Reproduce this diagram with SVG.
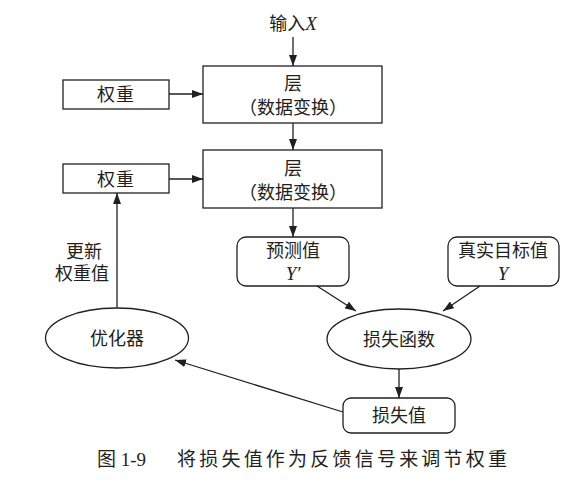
<svg xmlns="http://www.w3.org/2000/svg" width="587" height="481" viewBox="0 0 587 481">
<defs>
<marker id="ah" markerUnits="userSpaceOnUse" markerWidth="11" markerHeight="8" refX="11" refY="4" orient="auto">
<path d="M0,0 L11,4 L0,8 z" fill="#231f20"/>
</marker>
</defs>
<style>
.b{fill:#fff;stroke:#231f20;stroke-width:1.3}
.t{font-family:"Liberation Serif","Noto Sans CJK SC",serif;font-size:18px;fill:#231f20;text-anchor:middle}
.i{font-style:italic;font-size:19px}
.c{stroke:#231f20;stroke-width:1.3;fill:none;marker-end:url(#ah)}
.cap{font-family:"Liberation Serif","Noto Sans CJK SC",serif;font-size:19px;fill:#231f20}
</style>
<rect width="587" height="481" fill="#fff"/>
<g id="input"><text class="t" x="293" y="30">输入<tspan class="i">X</tspan></text></g>
<g id="layer1"><rect class="b" x="203" y="66" width="179" height="57"/><text class="t" x="293" y="90">层</text><text class="t" x="293" y="114">（数据变换）</text></g>
<g id="weights1"><rect class="b" x="63" y="80" width="106" height="29"/><text class="t" x="116" y="101" letter-spacing="1">权重</text></g>
<g id="layer2"><rect class="b" x="203" y="150" width="179" height="58"/><text class="t" x="293" y="175">层</text><text class="t" x="293" y="199">（数据变换）</text></g>
<g id="weights2"><rect class="b" x="63" y="164" width="106" height="29"/><text class="t" x="116" y="186" letter-spacing="1">权重</text></g>
<g id="pred"><rect class="b" x="237" y="237" width="112" height="49" rx="9"/><text class="t" x="293" y="257">预测值</text><text class="t i" x="293" y="280">Y′</text></g>
<g id="target"><rect class="b" x="448" y="237" width="111" height="49" rx="9"/><text class="t" x="503" y="257">真实目标值</text><text class="t i" x="503" y="280">Y</text></g>
<g id="lossfn"><ellipse class="b" cx="399" cy="339" rx="72" ry="30"/><text class="t" x="399" y="346">损失函数</text></g>
<g id="optimizer"><ellipse class="b" cx="117" cy="338" rx="71.5" ry="30"/><text class="t" x="117" y="345">优化器</text></g>
<g id="lossval"><rect class="b" x="343" y="398" width="112" height="35" rx="8"/><text class="t" x="399" y="422">损失值</text></g>
<g id="update-label"><text class="t" x="84" y="258">更新</text><text class="t" x="82" y="280">权重值</text></g>
<g id="connectors">
<line class="c" x1="293" y1="37" x2="293" y2="66"/>
<line class="c" x1="169" y1="94" x2="203" y2="94"/>
<line class="c" x1="293" y1="123" x2="293" y2="150"/>
<line class="c" x1="169" y1="179" x2="203" y2="179"/>
<line class="c" x1="293" y1="208" x2="293" y2="237"/>
<line class="c" x1="317" y1="286" x2="356" y2="311"/>
<line class="c" x1="480" y1="286" x2="443" y2="311"/>
<line class="c" x1="399" y1="369" x2="399" y2="398"/>
<line class="c" x1="343" y1="412" x2="175" y2="360"/>
<line class="c" x1="117" y1="308" x2="117" y2="193"/>
</g>
<g id="caption">
<text class="cap" x="97" y="466">图 1-9</text>
<text class="cap" x="177" y="466" textLength="330" lengthAdjust="spacing">将损失值作为反馈信号来调节权重</text>
</g>
</svg>
